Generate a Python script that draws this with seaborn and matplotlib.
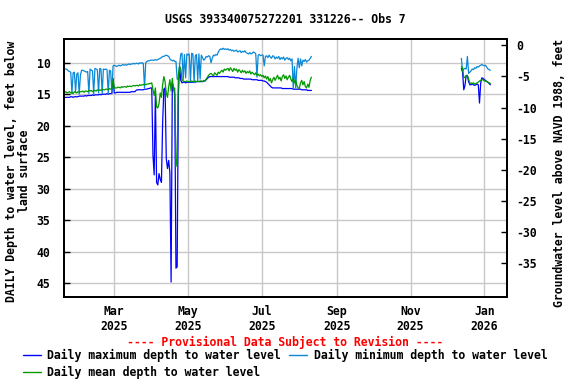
import matplotlib
matplotlib.use("Agg")
import matplotlib.pyplot as plt
import matplotlib.dates as mdates
from matplotlib.lines import Line2D
import pandas as pd
import seaborn as sns

# daily values, feet below land surface
# first stretch of record starts 2025-01-19
start_1 = "2025-01-19"
max_depth_1 = [
    15.5, 15.5, 15.5, 15.5, 15.5, 15.4, 15.4, 15.5, 15.4, 15.4, 15.4, 15.4, 15.3, 15.3,
    15.3, 15.3, 15.3, 15.2, 15.3, 15.2, 15.2, 15.2, 15.2, 15.1, 15.2, 15.1, 15.1, 15.1,
    15.1, 15.0, 15.1, 15.0, 15.0, 15.0, 15.0, 14.9, 15.0, 14.9, 14.9, 14.9, 12.5, 14.8,
    14.8, 14.7, 14.7, 14.7, 14.7, 14.7, 14.7, 14.7, 14.7, 14.7, 14.7, 14.7, 14.7, 14.6,
    14.6, 14.6, 14.6, 14.4, 14.3, 14.3, 14.3, 14.3, 14.3, 14.3, 14.2, 14.2, 14.2, 14.1,
    14.1, 14.0, 14.0,
    24.7, 27.8, 15.0, 29.0, 29.4, 27.6, 28.5, 29.0, 19.5, 14.2, 14.0, 25.2, 26.8, 25.5,
    27.5, 44.8, 13.2, 14.0, 15.0, 42.6, 42.4, 15.0, 10.6, 12.8, 13.2, 13.1, 13.1, 13.2,
    13.1, 13.1,
    13.1, 13.1, 13.1, 13.1, 13.0, 13.1, 13.0, 13.0, 13.0, 13.0, 13.0, 13.0, 12.9, 12.9,
    12.7, 12.5, 12.3, 12.2, 12.2, 12.2, 12.2, 12.2, 12.2, 12.2, 12.2, 12.2, 12.2, 12.2,
    12.2, 12.2, 12.2,
    12.2, 12.2, 12.3, 12.3, 12.3, 12.3, 12.3, 12.4, 12.4, 12.4, 12.4, 12.5, 12.5, 12.5,
    12.6, 12.6, 12.6, 12.6, 12.6, 12.6, 12.6, 12.7, 12.7, 12.7, 12.7, 12.7, 12.8, 12.8,
    12.8, 12.8,
    12.9, 12.9, 13.0, 13.1, 13.3, 13.5, 13.7, 13.9, 14.0, 14.0, 14.0, 14.0, 14.0, 14.0,
    14.0, 14.0, 14.1, 14.1, 14.1, 14.1, 14.1, 14.1, 14.1, 14.1, 14.1, 14.2, 14.2, 14.2,
    14.2, 14.2, 14.2,
    14.2, 14.3, 14.3, 14.3, 14.3, 14.3, 14.4, 14.4, 14.4, 14.4,
]
min_depth_1 = [
    11.0, 11.0, 11.1, 11.3, 11.4, 11.5, 14.9, 11.6, 11.5, 14.6, 11.8, 11.6, 15.0, 12.0,
    11.2, 11.2, 11.3, 11.4, 11.5, 11.4, 14.9, 11.0, 11.2, 11.3, 15.0, 10.9, 11.0, 11.1,
    14.8, 10.9, 11.0, 14.9, 11.0, 11.1, 11.0, 11.1, 14.9, 11.2, 11.3, 14.8, 10.5, 10.4,
    10.5, 10.6, 10.5, 10.4, 10.5, 10.4, 10.3, 10.4, 10.3, 10.4, 10.3, 10.2, 10.3, 10.2,
    10.2, 10.1, 10.2, 10.1, 10.1, 10.2, 10.0, 10.1, 10.0, 10.1, 14.0, 10.0, 9.8, 9.7,
    9.7, 9.6, 9.6,
    9.6, 9.6, 9.5, 9.6, 9.5, 9.4, 9.3, 9.2, 9.0, 9.0, 8.9, 8.8, 8.9, 9.0,
    9.4, 9.6, 9.7, 9.6, 9.8, 9.8, 12.6, 12.7, 10.4, 8.6, 8.5, 12.7, 8.7, 12.4,
    8.6, 8.8,
    8.6, 13.0, 8.5, 8.6, 13.2, 8.9, 8.7, 12.8, 8.6, 12.6, 8.8, 9.2, 9.6, 9.4,
    9.0, 9.1, 8.9, 9.0, 10.0, 9.3, 8.8, 8.9, 8.7, 8.8, 8.3, 8.0, 7.8, 7.9,
    7.7, 7.9, 7.8,
    7.9, 7.8, 8.0, 7.9, 8.1, 8.0, 8.2, 8.1, 8.0, 8.3, 8.2, 8.1, 8.4, 8.2,
    8.3, 8.1, 8.4, 8.5, 8.6, 8.4, 8.6, 8.5, 8.3, 8.4, 8.6, 12.3, 8.8, 8.7,
    8.9, 8.8,
    8.8, 10.5, 9.0, 8.9, 9.2, 8.8, 9.1, 9.3, 8.9, 9.0, 9.4, 9.1, 9.3, 9.0,
    9.5, 9.2, 9.4, 9.1, 9.6, 9.3, 9.2, 9.5, 9.3, 9.7, 9.4, 14.1, 10.6, 14.0,
    10.9, 9.3, 10.8,
    9.4, 10.5, 9.6, 9.8, 9.5, 9.9, 9.7, 9.6, 9.3, 9.0,
]
mean_depth_1 = [
    14.7, 14.6, 14.8, 14.7, 14.6, 14.8, 14.7, 14.9, 14.6, 14.7, 14.8, 14.6, 14.7, 14.6,
    14.6, 14.5, 14.7, 14.5, 14.5, 14.6, 14.4, 14.5, 14.4, 14.6, 14.4, 14.4, 14.5, 14.3,
    14.4, 14.3, 14.4, 14.2, 14.3, 14.3, 14.2, 14.2, 14.3, 14.1, 14.2, 14.1, 12.7, 14.0,
    14.0, 14.0, 13.9, 13.9, 14.0, 13.8, 13.9, 13.8, 13.8, 13.9, 13.7, 13.8, 13.7, 13.8,
    13.7, 13.6, 13.7, 13.6, 13.6, 13.7, 13.5, 13.6, 13.5, 13.5, 13.4, 13.5, 13.4, 13.4,
    13.3, 13.3, 13.2,
    14.3, 15.2, 14.0, 17.0, 17.2, 16.5, 14.8, 15.5, 13.5, 12.2, 13.0, 14.8, 15.5, 13.8,
    12.7, 14.5, 12.5, 14.3, 14.0, 26.5, 25.4, 12.0, 10.6, 11.0, 12.7, 12.9, 13.0, 13.0,
    12.9, 13.0,
    13.0, 13.0, 12.9, 13.0, 13.0, 12.9, 13.0, 12.9, 13.0, 12.9, 12.9, 13.0, 12.8, 12.9,
    12.6, 12.3, 12.0, 11.8, 11.7, 11.9, 12.1, 11.6, 11.8, 12.0, 11.5, 11.7, 11.4, 11.2,
    11.5, 11.0, 11.2,
    11.0, 10.9, 11.3, 10.8, 11.1, 11.4, 10.9, 11.2, 11.0, 11.5, 11.1, 11.3, 11.6, 11.2,
    11.5, 11.3, 11.7, 11.4, 11.6, 11.3, 11.8, 11.5, 11.7, 11.9, 11.6, 12.0, 11.8, 12.1,
    11.9, 12.2,
    12.0, 12.4, 12.1, 12.6, 12.2, 12.9, 12.5, 13.2, 12.7, 12.3, 12.8, 12.4, 12.0, 12.6,
    12.3, 12.9, 12.2, 11.9, 12.5, 12.1, 12.7, 12.3, 12.0, 12.6, 13.0, 12.4, 13.2, 12.8,
    13.6, 14.0, 14.1,
    13.2, 12.8, 13.5, 13.0, 13.8, 14.0, 13.4, 13.9, 12.8, 12.3,
]

# second stretch, December 2025 into January 2026
start_2 = "2025-12-13"
max_depth_2 = [10.9, 11.5, 14.3, 13.6, 12.0, 12.1, 13.0, 13.5, 13.5, 13.4, 13.5, 13.6, 13.5,
               13.4, 13.5, 16.4, 13.2, 12.4, 12.5, 12.7, 12.8, 13.0, 13.1, 13.3, 13.5]
min_depth_2 = [9.3, 11.4, 11.0, 10.9, 11.0, 9.0, 11.7, 11.5, 11.3, 11.0, 11.1, 10.8, 10.9,
               10.6, 10.7, 10.5, 10.4, 10.3, 10.4, 10.5, 10.4, 10.7, 11.0, 11.1, 11.2]
mean_depth_2 = [10.6, 10.8, 12.4, 12.3, 12.1, 12.0, 12.6, 13.3, 13.2, 13.3, 13.2, 13.4, 13.3,
                13.2, 13.1, 12.9, 12.8, 12.7, 12.7, 12.9, 12.9, 13.0, 13.1, 13.2, 13.3]

left_ticks = [10, 15, 20, 25, 30, 35, 40, 45]
right_ticks = [0, -5, -10, -15, -20, -25, -30, -35]

frames = []
for seg, (start, mx, mn, me) in enumerate([
        (start_1, max_depth_1, min_depth_1, mean_depth_1),
        (start_2, max_depth_2, min_depth_2, mean_depth_2)]):
    frames.append(pd.DataFrame({
        "date": pd.date_range(start, periods=len(mx), freq="D"),
        "max": mx, "min": mn, "mean": me, "seg": seg}))
df = pd.concat(frames, ignore_index=True)

sns.set_style("white")
plt.rcParams["font.family"] = ["DejaVu Sans Mono"]
plt.rcParams["font.weight"] = "bold"
plt.rcParams["axes.unicode_minus"] = False
plt.rcParams["text.color"] = "black"
plt.rcParams["xtick.color"] = "black"
plt.rcParams["ytick.color"] = "black"
fs = 8.3

c_max, c_min, c_mean = "#0000ff", "#0a88d8", "#009900"

fig = plt.figure(figsize=(5.76, 3.84), dpi=100)
ax = fig.add_axes([0.1116, 0.2273, 0.7681, 0.6703])

# max first, then min, mean on top
for col, color in [("max", c_max), ("min", c_min), ("mean", c_mean)]:
    sns.lineplot(data=df, x="date", y=col, units="seg", estimator=None,
                 color=color, lw=0.9, ax=ax, legend=False)

ax.set_xlim(pd.Timestamp("2025-01-18 16:00"), pd.Timestamp("2026-01-19 12:00"))
ax.set_ylim(47.13, 6.29)
ax.set_yticks(left_ticks)
ax.xaxis.set_major_locator(mdates.MonthLocator(bymonth=[1, 3, 5, 7, 9, 11]))
ax.xaxis.set_major_formatter(mdates.DateFormatter("%b\n%Y"))
ax.set_xlabel("")
ax.set_ylabel("")
ax.grid(True, color="#c8c8c8", lw=1)
ax.set_axisbelow(True)
ax.tick_params(axis="y", direction="in", length=4, width=1, pad=10, labelsize=fs)
ax.tick_params(axis="x", direction="in", length=4, width=1, pad=6, labelsize=fs)
for s in ax.spines.values():
    s.set_color("black")
    s.set_linewidth(1.3)

ax2 = ax.twinx()
ax2.set_ylim(-40.4, 0.96)
ax2.set_yticks(right_ticks)
ax2.grid(False)
ax2.tick_params(axis="y", direction="in", length=4, width=1, pad=7, labelsize=fs)
for s in ax2.spines.values():
    s.set_color("black")
    s.set_linewidth(1.3)

fig.text(0.4957, 0.949, "USGS 393340075272201 331226-- Obs 7",
         ha="center", va="center", fontsize=fs)
fig.text(0.032, 0.555, "DAILY Depth to water level, feet below\nland surface",
         rotation=90, ha="center", va="center", multialignment="center",
         fontsize=fs, linespacing=1.0)
fig.text(0.972, 0.55, "Groundwater level above NAVD 1988, feet",
         rotation=90, ha="center", va="center", fontsize=fs)
fig.text(0.4957, 0.109, "---- Provisional Data Subject to Revision ----",
         ha="center", va="center", color="red", fontsize=fs)

handles = [
    Line2D([], [], color=c_max, lw=1),
    Line2D([], [], color=c_mean, lw=1),
    Line2D([], [], color=c_min, lw=1),
]
labels = [
    "Daily maximum depth to water level",
    "Daily mean depth to water level",
    "Daily minimum depth to water level",
]
fig.legend(handles, labels, ncol=2, loc="upper left", bbox_to_anchor=(0.0396, 0.092),
           frameon=False, fontsize=fs, borderpad=0, borderaxespad=0,
           handlelength=1.55, handletextpad=0.55, columnspacing=0.75, labelspacing=0.35)

fig.savefig("out.png", dpi=100)
